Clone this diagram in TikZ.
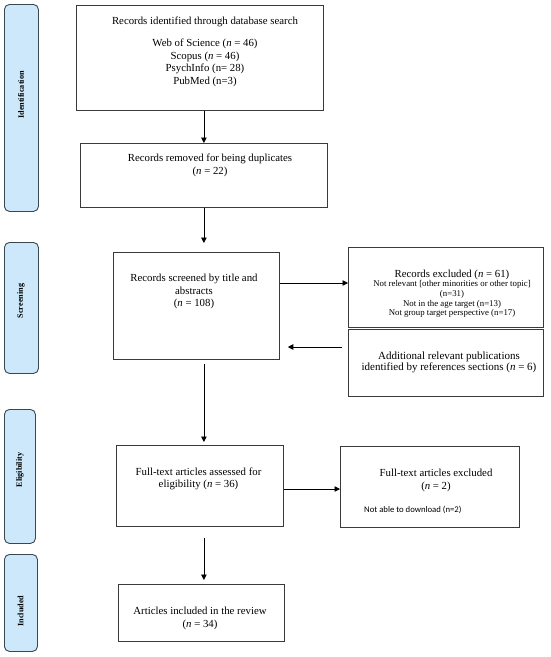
\documentclass[tikz,border=0pt]{standalone}
\usepackage{fontspec}
\setmainfont{Liberation Serif}
\newfontfamily\calibfont{Carlito}
\usetikzlibrary{arrows.meta,calc}
\definecolor{boxc}{HTML}{3A3A3A}
\definecolor{phasec}{HTML}{3B4750}
\definecolor{phasefill}{HTML}{CCE8FA}
\begin{document}
\begin{tikzpicture}[x=1pt,y=-1pt,
  box/.style={draw=boxc, line width=0.8pt, inner sep=0pt, anchor=north west},
  phase/.style={draw=phasec, fill=phasefill, line width=0.9pt, rounded corners=5pt, inner sep=0pt, anchor=north west},
  phasetxt/.style={rotate=90, font=\fontsize{8.2}{9}\selectfont\bfseries, inner sep=0pt},
  txt/.style={align=center, inner sep=0pt, anchor=north, font=\fontsize{10.8}{12.5}\selectfont},
  small/.style={align=center, inner sep=0pt, anchor=north, font=\fontsize{8.8}{9.7}\selectfont},
  arr/.style={line width=0.8pt, draw=black, -{Triangle[length=5.5pt,width=5.5pt]}}]
\useasboundingbox (0,0) rectangle (550,657);
% phase labels
\node[phase, minimum width=34pt, minimum height=207pt] (pid) at (4,4) {};
\node[phase, minimum width=34pt, minimum height=131pt] (psc) at (4,242) {};
\node[phase, minimum width=31pt, minimum height=134pt] (pel) at (4,409) {};
\node[phase, minimum width=33pt, minimum height=97pt] (pin) at (4,554) {};
\node[phasetxt] (tid) at (21,95) {Identification};
\node[phasetxt] (tsc) at (21,301) {Screening};
\node[phasetxt] (tel) at (20,470) {Eligibility};
\node[phasetxt] (tin) at (20.5,611) {Included};
% boxes
\node[box, minimum width=247pt, minimum height=105pt] (b1) at (76,5) {};
\node[box, minimum width=247pt, minimum height=64pt] (dup) at (80,143) {};
\node[box, minimum width=166pt, minimum height=107pt] (scr) at (113,252) {};
\node[box, minimum width=195pt, minimum height=80pt] (exc) at (348,247) {};
\node[box, minimum width=195pt, minimum height=67pt] (add) at (348,329) {};
\node[box, minimum width=167pt, minimum height=81pt] (eli) at (116,445) {};
\node[box, minimum width=179pt, minimum height=81pt] (ex2) at (340,446) {};
\node[box, minimum width=166pt, minimum height=57pt] (inc) at (118,584) {};
% texts
\node[txt] (b1t) at (205,17) {Records identified through database search\\[9.5pt]
  Web of Science (\textit{n} = 46)\\ Scopus (\textit{n} = 46)\\ PsychInfo (n= 28)\\ PubMed (n=3)};
\node[txt] (dupt) at (210,154) {Records removed for being duplicates\\ (\textit{n} = 22)};
\node[txt] (scrt) at (194,274) {Records screened by title and\\ abstracts\\ (\textit{n} = 108)};
\node[txt] (exct) at (452,269.5) {Records excluded (\textit{n} = 61)};
\node[small] (excd) at (452,280.5) {Not relevant [other minorities or other topic]\\ (n=31)\\ Not in the age target (n=13)\\ Not group target perspective (n=17)};
\node[txt, font=\fontsize{11}{11}\selectfont] (addt) at (449,351.5) {Additional relevant publications\\ identified by references sections (\textit{n} = 6)};
\node[txt] (elit) at (198.5,467.5) {Full-text articles assessed for\\ eligibility (\textit{n} = 36)};
\node[txt] (ex2t) at (436,469) {Full-text articles excluded\\ (\textit{n} = 2)};
\node[inner sep=0pt, anchor=base west, font=\calibfont\fontsize{8.7}{9}\selectfont] (ex2d) at (364,512.3) {Not able to download (n=2)};
\node[txt] (inct) at (200,607) {Articles included in the review\\ (\textit{n} = 34)};
% connectors
\draw[arr] (b1.south -| dup.north) -- (dup.north);
\draw[arr, shorten >=9pt] (dup.south) -- (dup.south |- scr.north);
\coordinate (p1) at ($(scr.north east)+(0,31)$);
\draw[arr] (p1) -- (p1 -| exc.west);
\coordinate (p2) at ($(add.north west)+(-6,18)$);
\draw[arr, shorten >=8pt] (p2) -- (p2 -| scr.east);
\draw[arr, shorten <=4pt, shorten >=3pt] (scr.south -| dup.south) -- (eli.north -| dup.south);
\coordinate (p3) at ($(eli.north east)+(0,44)$);
\draw[arr] (p3) -- (p3 -| ex2.west);
\draw[arr, shorten <=11pt, shorten >=4pt] (eli.south -| dup.south) -- (inc.north -| dup.south);
\end{tikzpicture}
\end{document}
